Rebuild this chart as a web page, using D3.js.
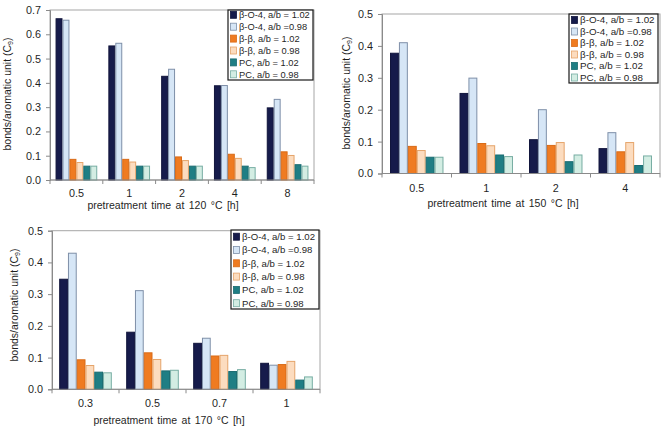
<!DOCTYPE html>
<html>
<head>
<meta charset="utf-8">
<script src="https://cdn.jsdelivr.net/npm/d3@7"></script>
<style>
  html, body { margin: 0; padding: 0; background: #fff; }
  svg { display: block; }
  text { font-family: "Liberation Sans", Arial, sans-serif; }
</style>
</head>
<body>
<svg id="chart" width="664" height="430"></svg>
<script>
// ---------- DATA ----------
const seriesLabels = ["β-O-4, a/b = 1.02", "β-O-4, a/b =0.98", "β-β, a/b = 1.02", "β-β, a/b = 0.98", "PC, a/b = 1.02", "PC, a/b = 0.98"];

// 120 °C
const times120 = ["0.5", "1", "2", "4", "8"];
const bO4_102_at120 = [0.664, 0.552, 0.427, 0.388, 0.297];
const bO4_098_at120 = [0.658, 0.563, 0.456, 0.389, 0.332];
const bb_102_at120  = [0.085, 0.085, 0.095, 0.106, 0.116];
const bb_098_at120  = [0.072, 0.074, 0.080, 0.089, 0.101];
const pc_102_at120  = [0.057, 0.057, 0.057, 0.057, 0.063];
const pc_098_at120  = [0.057, 0.057, 0.057, 0.051, 0.057];
const yTicks120 = [0, 0.1, 0.2, 0.3, 0.4, 0.5, 0.6, 0.7];

// 150 °C
const times150 = ["0.5", "1", "2", "4"];
const bO4_102_at150 = [0.377, 0.251, 0.106, 0.078];
const bO4_098_at150 = [0.410, 0.299, 0.200, 0.128];
const bb_102_at150  = [0.085, 0.094, 0.088, 0.068];
const bb_098_at150  = [0.072, 0.087, 0.097, 0.097];
const pc_102_at150  = [0.051, 0.058, 0.037, 0.025];
const pc_098_at150  = [0.051, 0.053, 0.058, 0.055];
const yTicks150 = [0, 0.1, 0.2, 0.3, 0.4, 0.5];

// 170 °C
const times170 = ["0.3", "0.5", "0.7", "1"];
const bO4_102_at170 = [0.347, 0.180, 0.145, 0.082];
const bO4_098_at170 = [0.429, 0.311, 0.161, 0.076];
const bb_102_at170  = [0.093, 0.115, 0.105, 0.078];
const bb_098_at170  = [0.075, 0.094, 0.107, 0.088];
const pc_102_at170  = [0.054, 0.058, 0.056, 0.029];
const pc_098_at170  = [0.052, 0.060, 0.062, 0.039];
const yTicks170 = [0, 0.1, 0.2, 0.3, 0.4, 0.5];

// ---------- STYLE ----------
const fills   = ["#161b4b", "#d6e6f6", "#ef7b21", "#fcdcbf", "#1f7e84", "#d3ede3"];
const strokes = ["#11153c", "#7e8fa8", "#d96b17", "#e5a46a", "#1a6c71", "#77ada3"];
const axisColor = "#8a8a8a";
const textColor = "#1f1f1f";

const svg = d3.select("#chart");

function drawChart(opt) {
  const g = svg.append("g");
  const { x0, x1, yTop, yBot, yMax } = opt;

  const x = d3.scaleBand().domain(opt.cats).range([x0, x1]).paddingInner(0).paddingOuter(0);
  const xs = d3.scaleBand().domain(d3.range(6)).range([0, x.bandwidth()]).paddingInner(0).paddingOuter(opt.pad);
  const y = d3.scaleLinear().domain([0, yMax]).range([yBot, yTop]);

  // plot frame
  g.append("rect")
    .attr("x", x0).attr("y", yTop)
    .attr("width", x1 - x0).attr("height", yBot - yTop)
    .attr("fill", "none").attr("stroke", "#a6a6a6").attr("stroke-width", 1);

  // bars
  opt.series.forEach((vals, si) => {
    g.append("g").selectAll("rect")
      .data(vals)
      .join("rect")
      .attr("x", (d, i) => x(opt.cats[i]) + xs(si) + 0.5)
      .attr("y", d => y(d))
      .attr("width", xs.bandwidth() - 1)
      .attr("height", d => yBot - y(d))
      .attr("fill", fills[si])
      .attr("stroke", strokes[si])
      .attr("stroke-width", 1);
  });

  // y axis
  const yAxis = d3.axisLeft(y).tickValues(opt.yTicks).tickFormat(d3.format(".1f")).tickSize(4).tickPadding(5);
  const ya = g.append("g").attr("transform", `translate(${x0},0)`).call(yAxis);
  ya.select(".domain").attr("stroke", axisColor);
  ya.selectAll(".tick line").attr("stroke", axisColor);
  ya.selectAll(".tick text").attr("fill", textColor).attr("font-size", 10.8)
    .attr("font-family", "'Liberation Sans', Arial, sans-serif");

  // x axis
  const xa = g.append("g").attr("transform", `translate(0,${yBot})`);
  xa.append("line").attr("x1", x0).attr("x2", x1).attr("y1", 0).attr("y2", 0).attr("stroke", axisColor);
  const bounds = opt.cats.map(c => x(c)).concat([x1]);
  xa.selectAll("line.tk").data(bounds).join("line").attr("class", "tk")
    .attr("x1", d => d).attr("x2", d => d).attr("y1", 0).attr("y2", 4).attr("stroke", axisColor);
  xa.selectAll("text").data(opt.cats).join("text")
    .attr("x", d => x(d) + x.bandwidth() / 2)
    .attr("y", opt.tickLabelDy)
    .attr("text-anchor", "middle")
    .attr("font-size", 10.8).attr("fill", textColor)
    .text(d => d);

  // x label
  g.append("text")
    .attr("x", opt.xLabelX).attr("y", opt.xLabelY)
    .attr("text-anchor", "middle").attr("font-size", 10.5).attr("fill", textColor)
    .attr("word-spacing", "1.5px")
    .text(opt.xLabel);

  // y label
  const yl = g.append("text")
    .attr("transform", `translate(${opt.yLabelX},${opt.yLabelY}) rotate(-90)`)
    .attr("text-anchor", "middle").attr("font-size", 10.5).attr("fill", textColor);
  yl.append("tspan").text("bonds/aromatic unit (C");
  yl.append("tspan").attr("font-size", 7).attr("dy", 2).text("9");
  yl.append("tspan").attr("dy", -2).text(")");

  // legend
  const L = opt.legend;
  const lg = g.append("g");
  lg.append("rect").attr("x", L.x).attr("y", L.y).attr("width", L.w).attr("height", L.h)
    .attr("fill", "#fff").attr("stroke", "#1a1a1a").attr("stroke-width", 1.2);
  seriesLabels.forEach((lab, i) => {
    const cy = L.y + L.first + i * L.step;
    lg.append("rect").attr("x", L.x + 2.5).attr("y", cy - 3.5).attr("width", 6).attr("height", 7)
      .attr("fill", fills[i]).attr("stroke", strokes[i]).attr("stroke-width", 0.8);
    lg.append("text").attr("x", L.x + 11).attr("y", cy + 3.4)
      .attr("font-size", L.fs).attr("fill", textColor).text(lab);
  });
}

drawChart({
  cats: times120,
  series: [bO4_102_at120, bO4_098_at120, bb_102_at120, bb_098_at120, pc_102_at120, pc_098_at120],
  x0: 50, x1: 314, yTop: 10, yBot: 180, yMax: 0.7, yTicks: yTicks120, pad: 0.8,
  tickLabelDy: 17,
  xLabel: "pretreatment time at 120 °C [h]", xLabelX: 163, xLabelY: 209,
  yLabelX: 11, yLabelY: 94,
  legend: { x: 228, y: 10, w: 85, h: 70, first: 4.8, step: 11.9, fs: 9.3 }
});

drawChart({
  cats: times150,
  series: [bO4_102_at150, bO4_098_at150, bb_102_at150, bb_098_at150, pc_102_at150, pc_098_at150],
  x0: 382, x1: 660, yTop: 14, yBot: 173.5, yMax: 0.5, yTicks: yTicks150, pad: 0.9,
  tickLabelDy: 18,
  xLabel: "pretreatment time at 150 °C [h]", xLabelX: 503, xLabelY: 207,
  yLabelX: 350, yLabelY: 93,
  legend: { x: 569, y: 14, w: 89, h: 69, first: 6, step: 11.5, fs: 9.8 }
});

drawChart({
  cats: times170,
  series: [bO4_102_at170, bO4_098_at170, bb_102_at170, bb_098_at170, pc_102_at170, pc_098_at170],
  x0: 52, x1: 320, yTop: 230.7, yBot: 389.3, yMax: 0.5, yTicks: yTicks170, pad: 0.82,
  tickLabelDy: 18,
  xLabel: "pretreatment time at 170 °C [h]", xLabelX: 169, xLabelY: 424,
  yLabelX: 18, yLabelY: 305,
  legend: { x: 231, y: 230, w: 88, h: 79, first: 6.7, step: 13.3, fs: 9.6 }
});
</script>
</body>
</html>
